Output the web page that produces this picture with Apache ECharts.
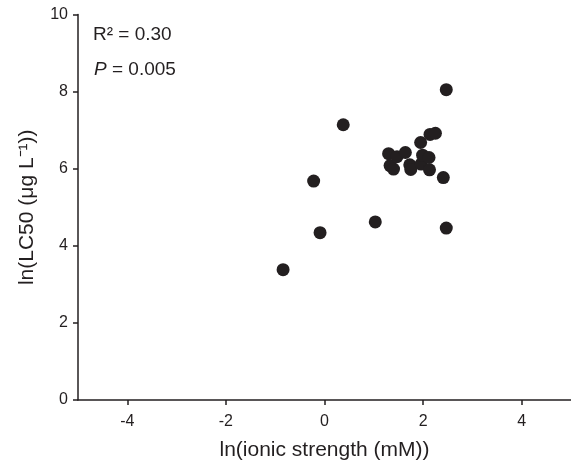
<!DOCTYPE html>
<html><head><meta charset="utf-8">
<script src="https://cdn.jsdelivr.net/npm/echarts@6/dist/echarts.min.js"></script>
<style>html,body{margin:0;padding:0;background:#fff}#c{width:571px;height:466px}</style>
</head><body><div id="c"></div>
<script>
const xVals = [-0.84, -0.22, -0.09, 0.38, 1.03, 1.30, 1.33, 1.40, 1.47, 1.64, 1.73, 1.75, 1.95, 1.96, 1.99, 2.12, 2.13, 2.14, 2.25, 2.41, 2.47, 2.47];
const yVals = [3.38, 5.68, 4.34, 7.14, 4.62, 6.39, 6.08, 5.99, 6.31, 6.42, 6.10, 5.98, 6.68, 6.12, 6.35, 6.29, 5.97, 6.89, 6.92, 5.77, 8.05, 4.46];
const xTicks = [-4, -2, 0, 2, 4];
const yTicks = [0, 2, 4, 6, 8, 10];
const xTitle = 'ln(ionic strength (mM))';
const yTitle = 'ln(LC50 (μg L⁻¹))';
const statR = 'R² = 0.30';
const statP = '0.005';

const chart = echarts.init(document.getElementById('c'));
const font = 'Liberation Sans, Arial, sans-serif';
const ink = '#231f20';
const axisCommon = {
  axisLine: {show: true, onZero: false, lineStyle: {color: ink, width: 1.5}},
  axisTick: {show: true, inside: false, length: 5, lineStyle: {color: ink, width: 1.5}},
  splitLine: {show: false},
  axisLabel: {color: ink, fontSize: 16, fontFamily: font}
};
chart.setOption({
  animation: false,
  grid: {left: 78, right: 0, top: 14.5, bottom: 64},
  xAxis: Object.assign({}, axisCommon, {
    type: 'value', min: -5, max: 5, interval: 1,
    axisTick: Object.assign({}, axisCommon.axisTick, {customValues: xTicks}),
    axisLabel: Object.assign({}, axisCommon.axisLabel, {customValues: xTicks, margin: 14}),
    name: xTitle, nameLocation: 'middle', nameGap: 40,
    nameTextStyle: {color: ink, fontSize: 21, fontFamily: font}
  }),
  yAxis: Object.assign({}, axisCommon, {
    type: 'value', min: 0, max: 10, interval: 2,
    axisLabel: Object.assign({}, axisCommon.axisLabel, {margin: 10}),
    name: yTitle, nameLocation: 'middle', nameGap: 40,
    nameTextStyle: {color: ink, fontSize: 21, fontFamily: font}
  }),
  graphic: [
    {type: 'text', left: 93, top: 25, style: {text: statR, font: '19px ' + font, fill: ink}},
    {type: 'text', left: 94, top: 60, style: {
      text: '{i|P} = ' + statP,
      font: '19px ' + font, fill: ink,
      rich: {i: {fontStyle: 'italic', fontSize: 19, fontFamily: font, fill: ink}}
    }}
  ],
  series: [{
    type: 'scatter', symbol: 'circle', symbolSize: 13,
    itemStyle: {color: ink, opacity: 1},
    data: xVals.map((x, i) => [x, yVals[i]])
  }]
});
</script></body></html>
